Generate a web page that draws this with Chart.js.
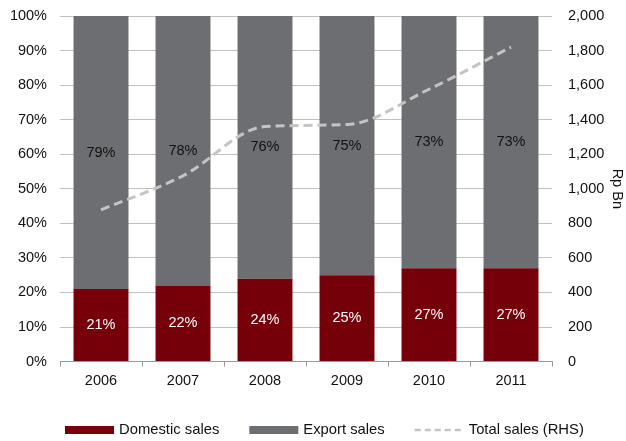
<!DOCTYPE html>
<html>
<head>
<meta charset="utf-8">
<script src="https://cdn.jsdelivr.net/npm/chart.js@4/dist/chart.umd.min.js"></script>
<style>
  html, body { margin: 0; padding: 0; background: #fff; }
  #wrap { width: 626px; height: 441px; }
</style>
</head>
<body>
<div id="wrap"><canvas id="salesChart"></canvas></div>
<script>
const years = ['2006', '2007', '2008', '2009', '2010', '2011'];
const domesticShare = [21, 22, 24, 25, 27, 27];
const exportShare = [79, 78, 76, 75, 73, 73];
const totalSales = [878, 1075, 1360, 1372, 1576, 1820];

const FONT = { family: 'Arial, "Liberation Sans", sans-serif', size: 14.5 };
const fontStr = `${FONT.size}px ${FONT.family}`;

// writes the share in the middle of each bar segment
const segmentLabels = {
    id: 'segmentLabels',
    afterDatasetsDraw(chart) {
        const ctx = chart.ctx;
        ctx.save();
        ctx.font = fontStr;
        ctx.textAlign = 'center';
        ctx.textBaseline = 'middle';
        chart.data.datasets.forEach((ds, i) => {
            if (ds.type !== 'bar') return;
            const meta = chart.getDatasetMeta(i);
            meta.data.forEach((bar, j) => {
                ctx.fillStyle = ds.labelColor;
                ctx.fillText(ds.data[j] + '%', bar.x, (bar.y + bar.base) / 2);
            });
        });
        ctx.restore();
    }
};

// legend row under the axis: wide swatches for bars, dashed stroke for the line
const bottomLegend = {
    id: 'bottomLegend',
    afterDraw(chart, args, opts) {
        const ctx = chart.ctx;
        const swatchW = 49, gapText = 5, gapItem = 30;
        ctx.save();
        ctx.font = `${opts.fontSize}px ${FONT.family}`;
        ctx.textBaseline = 'middle';
        ctx.textAlign = 'left';
        let x = opts.x;
        const y = opts.y;
        chart.data.datasets.forEach(ds => {
            if (ds.type === 'line') {
                ctx.strokeStyle = ds.borderColor;
                ctx.lineWidth = 2.5;
                ctx.setLineDash([6, 4]);
                ctx.beginPath();
                ctx.moveTo(x, y);
                ctx.lineTo(x + swatchW, y);
                ctx.stroke();
                ctx.setLineDash([]);
            } else {
                ctx.fillStyle = ds.backgroundColor;
                ctx.fillRect(x, y - 4, swatchW, 8);
            }
            ctx.fillStyle = '#111';
            ctx.fillText(ds.label, x + swatchW + gapText, y);
            x += swatchW + gapText + ctx.measureText(ds.label).width + gapItem;
        });
        ctx.restore();
    }
};

// keep the value axes from reserving room for half of the end labels
const noEndPadding = scale => {
    scale.paddingTop = 0;
    scale.paddingBottom = 0;
};

const ctx = document.getElementById('salesChart').getContext('2d');
new Chart(ctx, {
    data: {
        labels: years,
        datasets: [
            {
                type: 'bar',
                label: 'Domestic sales',
                data: domesticShare,
                backgroundColor: '#760009',
                labelColor: '#ffffff',
                yAxisID: 'y',
                barPercentage: 0.67,
                categoryPercentage: 1,
                borderWidth: 0,
                order: 1
            },
            {
                type: 'bar',
                label: 'Export sales',
                data: exportShare,
                backgroundColor: '#6d6e71',
                labelColor: '#111111',
                yAxisID: 'y',
                barPercentage: 0.67,
                categoryPercentage: 1,
                borderWidth: 0,
                order: 1
            },
            {
                type: 'line',
                label: 'Total sales (RHS)',
                data: totalSales,
                yAxisID: 'y2',
                borderColor: '#c4c4c4',
                backgroundColor: '#c4c4c4',
                borderWidth: 3,
                borderDash: [9, 5],
                cubicInterpolationMode: 'monotone',
                pointRadius: 0,
                fill: false,
                order: 0
            }
        ]
    },
    options: {
        responsive: true,
        maintainAspectRatio: false,
        animation: false,
        layout: { padding: { top: 16, bottom: 45, left: 0, right: 0 } },
        plugins: {
            tooltip: { enabled: false },
            legend: { display: false },
            bottomLegend: { x: 65, y: 430, fontSize: 14.8 }
        },
        scales: {
            x: {
                stacked: true,
                offset: true,
                grid: {
                    display: true,
                    drawOnChartArea: false,
                    drawTicks: true,
                    tickLength: 5,
                    color: '#9a9a9a',
                    offset: true
                },
                border: { display: true, color: '#9a9a9a' },
                ticks: { color: '#111', font: FONT, padding: 6 }
            },
            y: {
                stacked: true,
                position: 'left',
                min: 0,
                max: 100,
                ticks: {
                    stepSize: 10,
                    color: '#111',
                    font: FONT,
                    padding: 13,
                    callback: v => v + '%'
                },
                grid: { color: '#c0c0c0', drawTicks: false },
                border: { display: false },
                afterFit: scale => { scale.width = 60; noEndPadding(scale); }
            },
            y2: {
                position: 'right',
                min: 0,
                max: 2000,
                ticks: {
                    stepSize: 200,
                    color: '#111',
                    font: FONT,
                    padding: 16,
                    callback: v => v.toLocaleString('en-US')
                },
                grid: { display: false, drawTicks: false },
                border: { display: false },
                title: {
                    display: true,
                    text: 'Rp Bn',
                    color: '#111',
                    font: FONT,
                    padding: { top: 0, bottom: 0 }
                },
                afterFit: scale => { scale.width = 74; noEndPadding(scale); }
            }
        }
    },
    plugins: [segmentLabels, bottomLegend]
});
</script>
</body>
</html>
